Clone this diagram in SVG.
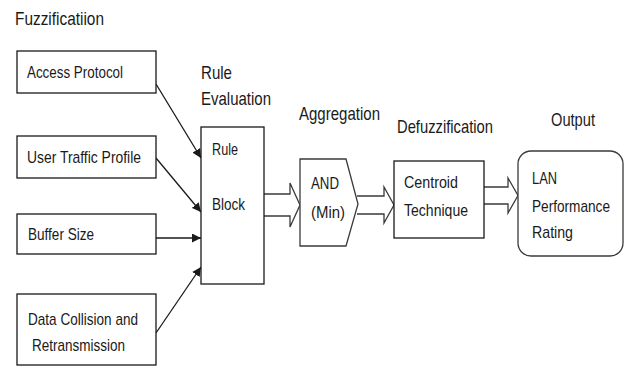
<svg xmlns="http://www.w3.org/2000/svg" width="625" height="366" viewBox="0 0 625 366">
<style>
text{font-family:"Liberation Sans Narrow","Liberation Sans",Arial,sans-serif;fill:#1a1a1a}
.lbl{font-size:19px}
.in{font-size:17px}
.box{fill:#fff;stroke:#1a1a1a;stroke-width:1.3}
.hollow{fill:#fff;stroke:#3a3a3a;stroke-width:1.3;stroke-linejoin:miter}
.con{stroke:#1a1a1a;stroke-width:1.3;fill:none}
</style>
<defs>
<marker id="ah" viewBox="0 0 10 10" refX="10" refY="5" markerWidth="9" markerHeight="9" markerUnits="userSpaceOnUse" orient="auto">
<path d="M0,0 L10,5 L0,10 Z" fill="#1a1a1a"/>
</marker>
</defs>
<rect width="625" height="366" fill="#fff"/>

<text class="lbl" x="15" y="25" textLength="89" lengthAdjust="spacingAndGlyphs">Fuzzificatiion</text>
<text class="lbl" x="201" y="79" textLength="31" lengthAdjust="spacingAndGlyphs">Rule</text>
<text class="lbl" x="201" y="105" textLength="70" lengthAdjust="spacingAndGlyphs">Evaluation</text>
<text class="lbl" x="299" y="120" textLength="81" lengthAdjust="spacingAndGlyphs">Aggregation</text>
<text class="lbl" x="397" y="133" textLength="96" lengthAdjust="spacingAndGlyphs">Defuzzification</text>
<text class="lbl" x="551" y="126" textLength="44" lengthAdjust="spacingAndGlyphs">Output</text>

<g id="connectors">
<line class="con" x1="156" y1="84" x2="201" y2="158" marker-end="url(#ah)"/>
<line class="con" x1="156" y1="158" x2="201" y2="212" marker-end="url(#ah)"/>
<line class="con" x1="156" y1="238" x2="201" y2="238" marker-end="url(#ah)"/>
<line class="con" x1="156" y1="333" x2="201" y2="267" marker-end="url(#ah)"/>
<path class="hollow" d="M264,194 L290,194 L290,183 L300,205 L290,227 L290,216 L264,216"/>
<path class="hollow" d="M357,196 L384,196 L384,187 L394,205 L384,223 L384,214 L357,214"/>
<path class="hollow" d="M484,187 L508,187 L508,178 L518,195.5 L508,213 L508,204 L484,204"/>
</g>

<g id="access-protocol">
<rect class="box" x="17" y="51" width="139" height="42"/>
<text class="in" x="27" y="78" textLength="96" lengthAdjust="spacingAndGlyphs">Access Protocol</text>
</g>
<g id="user-traffic-profile">
<rect class="box" x="17" y="136" width="139" height="42"/>
<text class="in" x="27" y="163" textLength="114" lengthAdjust="spacingAndGlyphs">User Traffic Profile</text>
</g>
<g id="buffer-size">
<rect class="box" x="17" y="214" width="139" height="40"/>
<text class="in" x="28" y="240" textLength="66" lengthAdjust="spacingAndGlyphs">Buffer Size</text>
</g>
<g id="data-collision">
<rect class="box" x="17" y="294" width="139" height="71"/>
<text class="in" x="28" y="325" textLength="110" lengthAdjust="spacingAndGlyphs">Data Collision and</text>
<text class="in" x="32" y="351" textLength="93" lengthAdjust="spacingAndGlyphs">Retransmission</text>
</g>
<g id="rule-block">
<rect class="box" x="201" y="127" width="63" height="157"/>
<text class="in" x="212" y="155" textLength="26" lengthAdjust="spacingAndGlyphs">Rule</text>
<text class="in" x="212" y="210" textLength="33" lengthAdjust="spacingAndGlyphs">Block</text>
</g>
<g id="aggregation">
<path class="hollow" d="M300,159 L346,159 L358,204 L346,246 L300,246 Z"/>
<text class="in" x="311" y="189" textLength="28" lengthAdjust="spacingAndGlyphs">AND</text>
<text class="in" x="311" y="218" textLength="34" lengthAdjust="spacingAndGlyphs">(Min)</text>
</g>
<g id="centroid">
<rect class="box" x="394" y="161" width="90" height="77"/>
<text class="in" x="404" y="188" textLength="54" lengthAdjust="spacingAndGlyphs">Centroid</text>
<text class="in" x="404" y="216" textLength="64" lengthAdjust="spacingAndGlyphs">Technique</text>
</g>
<g id="output">
<rect class="hollow" x="518" y="151" width="105" height="105" rx="13" ry="13"/>
<text class="in" x="532" y="184" textLength="25" lengthAdjust="spacingAndGlyphs">LAN</text>
<text class="in" x="532" y="212" font-size="16" textLength="78" lengthAdjust="spacingAndGlyphs">Performance</text>
<text class="in" x="532" y="238" textLength="41" lengthAdjust="spacingAndGlyphs">Rating</text>
</g>
</svg>
